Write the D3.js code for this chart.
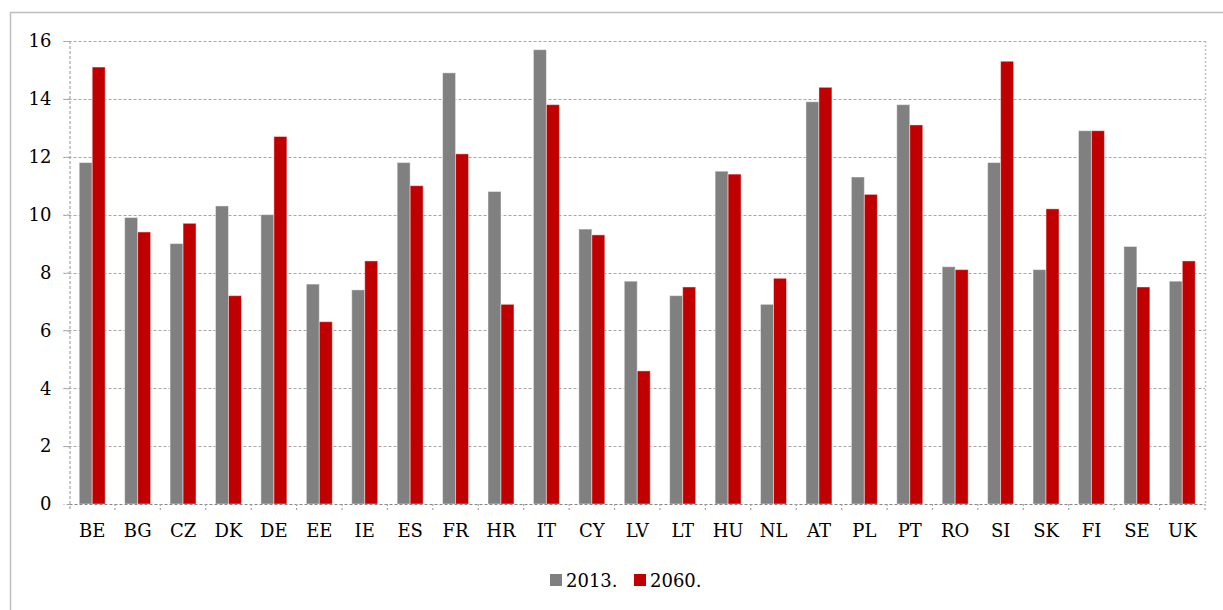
<!DOCTYPE html>
<html>
<head>
<meta charset="utf-8">
<script src="https://cdn.jsdelivr.net/npm/d3@7"></script>
<style>
  body { margin: 0; background: #fff; }
  svg text { font-family: 'DejaVu Serif', serif; fill: #000; }
</style>
</head>
<body>
<div id="chart"></div>
<script>
const countries = ['BE', 'BG', 'CZ', 'DK', 'DE', 'EE', 'IE', 'ES', 'FR', 'HR', 'IT', 'CY', 'LV',
  'LT', 'HU', 'NL', 'AT', 'PL', 'PT', 'RO', 'SI', 'SK', 'FI', 'SE', 'UK']
const values2013 = [11.8, 9.9, 9.0, 10.3, 10.0, 7.6, 7.4, 11.8, 14.9, 10.8, 15.7, 9.5, 7.7,
  7.2, 11.5, 6.9, 13.9, 11.3, 13.8, 8.2, 11.8, 8.1, 12.9, 8.9, 7.7]
const values2060 = [15.1, 9.4, 9.7, 7.2, 12.7, 6.3, 8.4, 11.0, 12.1, 6.9, 13.8, 9.3, 4.6,
  7.5, 11.4, 7.8, 14.4, 10.7, 13.1, 8.1, 15.3, 10.2, 12.9, 7.5, 8.4]
const seriesNames = ['2013.', '2060.']
const yTicks = [0, 2, 4, 6, 8, 10, 12, 14, 16]

const colors = ['#808080', '#c00000']

const svgWidth = 1223, svgHeight = 610
const margin = { top: 41, right: 18, bottom: 106, left: 69.5 }
const width = svgWidth - margin.left - margin.right
const height = svgHeight - margin.top - margin.bottom
const fontSize = 18

let svg = d3.select('#chart')
    .append('svg')
    .attr('width', svgWidth)
    .attr('height', svgHeight)

// chart frame
svg.append('rect')
    .attr('x', 10.5)
    .attr('y', 12.5)
    .attr('width', 1230)
    .attr('height', 620)
    .attr('fill', 'none')
    .attr('stroke', '#bfbfbf')
    .attr('stroke-width', 1.5)

let canvas = svg.append('g')
    .attr('transform', 'translate(' + margin.left + ',' + margin.top + ')')

let y = d3.scaleLinear().domain([0, 16]).range([height, 0])

let x = d3.scaleBand()
    .domain(countries)
    .range([0, width])
    .paddingInner(0.428)
    .paddingOuter(0.214)

let xEdge = d3.scaleBand().domain(countries).range([0, width])

let xSeries = d3.scaleBand()
    .domain(d3.range(seriesNames.length))
    .range([0, x.bandwidth()])

// grid lines
canvas.append('g')
    .selectAll('line')
    .data(yTicks.filter(d => d > 0))
    .join('line')
    .attr('x1', -6)
    .attr('x2', width)
    .attr('y1', d => Math.round(y(d)) + 0.5)
    .attr('y2', d => Math.round(y(d)) + 0.5)
    .attr('stroke', '#a6a6a6')
    .attr('stroke-width', 1.2)
    .attr('stroke-dasharray', '3,2')

// right edge of plot area
canvas.append('line')
    .attr('x1', width + 0.5).attr('x2', width + 0.5)
    .attr('y1', y(16)).attr('y2', y(0))
    .attr('stroke', '#c0c0c0')
    .attr('stroke-width', 1.5)
    .attr('stroke-dasharray', '2,2')

// bars
const seriesData = [values2013, values2060]
seriesData.forEach((vals, s) => {
  canvas.append('g')
      .selectAll('rect')
      .data(countries)
      .join('rect')
      .attr('x', (c) => x(c) + xSeries(s))
      .attr('y', (c, i) => y(vals[i]))
      .attr('width', xSeries.bandwidth())
      .attr('height', (c, i) => y(0) - y(vals[i]))
      .attr('fill', colors[s])
      .attr('stroke', 'rgba(255,255,255,0.45)')
      .attr('stroke-width', 1)
})

// y axis (left, dashed)
let yAxis = canvas.append('g')
    .call(d3.axisLeft(y).tickValues(yTicks).tickSize(6).tickPadding(12))
    .attr('font-family', null)
    .attr('font-size', null)
yAxis.select('.domain')
    .attr('d', 'M0.5,' + y(16) + 'V' + (y(0) + 6))
    .attr('stroke', '#a6a6a6')
    .attr('stroke-width', 1.2)
    .attr('stroke-dasharray', '3,2')
yAxis.selectAll('.tick line')
    .attr('stroke', '#a6a6a6')
    .attr('stroke-width', 1.2)
    .attr('stroke-dasharray', '3,2')
yAxis.selectAll('.tick text')
    .attr('font-size', fontSize)

// x axis
let xAxis = canvas.append('g')
    .attr('transform', 'translate(0,' + height + ')')
    .call(d3.axisBottom(x).tickSize(0).tickPadding(20))
    .attr('font-family', null)
    .attr('font-size', null)
xAxis.select('.domain')
    .attr('d', 'M0,0.5H' + width)
    .attr('stroke', '#868686')
    .attr('stroke-width', 1.2)
    .attr('stroke-dasharray', '3,2')
xAxis.selectAll('.tick text')
    .attr('font-size', fontSize)

// category boundary ticks
canvas.append('g')
    .selectAll('line')
    .data(countries.slice(1).concat(['end']))
    .join('line')
    .attr('x1', (c) => c === 'end' ? width : xEdge(c))
    .attr('x2', (c) => c === 'end' ? width : xEdge(c))
    .attr('y1', height)
    .attr('y2', height + 6)
    .attr('stroke', '#a6a6a6')
    .attr('stroke-width', 1.2)
    .attr('stroke-dasharray', '2,2')

// legend
let legend = svg.append('g')
    .attr('transform', 'translate(550,574)')

const legendX = [0, 84]
seriesNames.forEach((name, i) => {
  legend.append('rect')
      .attr('x', legendX[i])
      .attr('y', 0)
      .attr('width', 12)
      .attr('height', 12)
      .attr('fill', colors[i])
  legend.append('text')
      .attr('x', legendX[i] + 16)
      .attr('y', 12.5)
      .attr('font-size', fontSize)
      .text(name)
})
</script>
</body>
</html>
